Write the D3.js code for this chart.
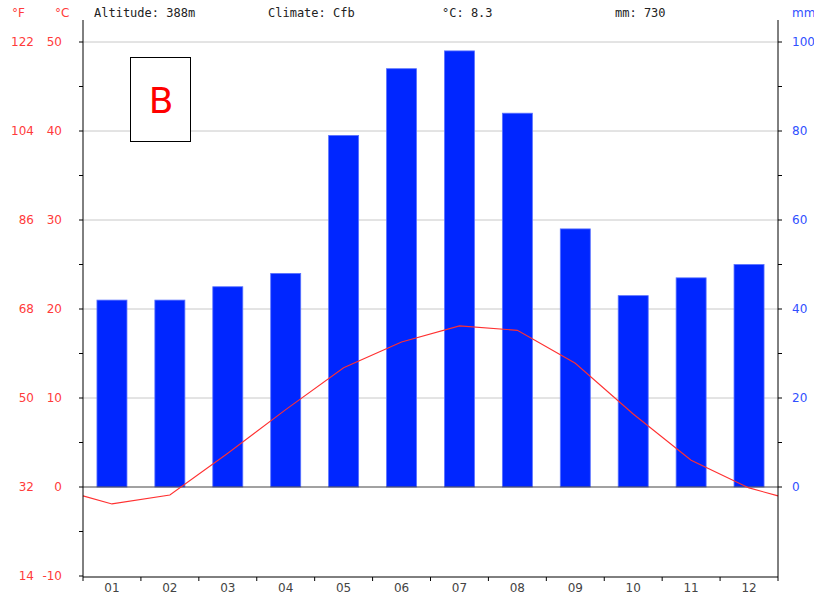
<!DOCTYPE html>
<html>
<head>
<meta charset="utf-8">
<script src="https://cdn.jsdelivr.net/npm/d3@7"></script>
<style>
  body { margin: 0; background: #fff; }
  text { font-family: "DejaVu Sans", sans-serif; }
</style>
</head>
<body>
<div id="chart"></div>
<script>
// data
const months = ["01", "02", "03", "04", "05", "06", "07", "08", "09", "10", "11", "12"];
const precip = [42, 42, 45, 48, 79, 94, 98, 84, 58, 43, 47, 50];
const temp = [-1.9, -0.9, 3.8, 8.7, 13.4, 16.3, 18.1, 17.6, 13.9, 8.2, 3.0, -0.1];
const cTicks = [50, 40, 30, 20, 10, 0, -10];
const mmTicks = [100, 80, 60, 40, 20, 0];
const header = ["Altitude: 388m", "Climate: Cfb", "°C: 8.3", "mm: 730"];

const W = 814, H = 594;
const pLeft = 83, pRight = 778, pTop = 20, pBottom = 577;

const svg = d3.select("#chart").append("svg")
    .attr("width", W)
    .attr("height", H);

const x = d3.scaleBand().domain(months).range([pLeft, pRight]);
const yC = d3.scaleLinear().domain([-10, 50]).range([576, 42]);
const yMM = d3.scaleLinear().domain([0, 100]).range([yC(0), yC(50)]);

// grid lines
svg.append("g")
    .selectAll("line")
    .data(cTicks.filter(d => d > 0))
    .join("line")
    .attr("x1", pLeft).attr("x2", pRight)
    .attr("y1", d => yC(d)).attr("y2", d => yC(d))
    .attr("stroke", "#c8c8c8");

// bars
svg.append("g")
    .selectAll("rect")
    .data(precip)
    .join("rect")
    .attr("x", (d, i) => x(months[i]) + x.bandwidth() / 2 - 15)
    .attr("width", 30)
    .attr("y", d => yMM(d))
    .attr("height", d => yMM(0) - yMM(d))
    .attr("fill", "#0026ff")
    .attr("stroke", "#5a72ff")
    .attr("stroke-width", 0.8);

// zero line
svg.append("line")
    .attr("x1", pLeft).attr("x2", pRight)
    .attr("y1", yC(0)).attr("y2", yC(0))
    .attr("stroke", "#444");

// temperature line with edges at Dec/Jan mean
const edge = (temp[0] + temp[11]) / 2;
const pts = [[pLeft, edge]].concat(temp.map((d, i) => [x(months[i]) + x.bandwidth() / 2, d]), [[pRight, edge]]);
svg.append("path")
    .datum(pts)
    .attr("fill", "none")
    .attr("stroke", "#ff3030")
    .attr("stroke-width", 1.1)
    .attr("d", d3.line().x(d => d[0]).y(d => yC(d[1])));

// left axis
svg.append("line")
    .attr("x1", pLeft).attr("x2", pLeft).attr("y1", pTop).attr("y2", pBottom)
    .attr("stroke", "#000");
const minorC = d3.range(-10, 51, 5);
svg.append("g")
    .selectAll("line")
    .data(minorC)
    .join("line")
    .attr("x1", pLeft - 4).attr("x2", pLeft)
    .attr("y1", d => yC(d)).attr("y2", d => yC(d))
    .attr("stroke", "#000");
svg.append("g")
    .selectAll("text")
    .data(cTicks)
    .join("text")
    .attr("x", 62).attr("y", d => yC(d) + 4)
    .attr("text-anchor", "end")
    .attr("font-size", 12)
    .attr("fill", "#ff3b3b")
    .text(d => d);
svg.append("g")
    .selectAll("text")
    .data(cTicks)
    .join("text")
    .attr("x", 34).attr("y", d => yC(d) + 4)
    .attr("text-anchor", "end")
    .attr("font-size", 12)
    .attr("fill", "#ff3b3b")
    .text(d => Math.round(d * 9 / 5 + 32));

// right axis
svg.append("line")
    .attr("x1", pRight).attr("x2", pRight).attr("y1", pTop).attr("y2", pBottom)
    .attr("stroke", "#000");
svg.append("g")
    .selectAll("line")
    .data(d3.range(0, 101, 10))
    .join("line")
    .attr("x1", pRight).attr("x2", pRight + 4)
    .attr("y1", d => yMM(d)).attr("y2", d => yMM(d))
    .attr("stroke", "#000");
svg.append("g")
    .selectAll("text")
    .data(mmTicks)
    .join("text")
    .attr("x", 792).attr("y", d => yMM(d) + 4)
    .attr("font-size", 12)
    .attr("fill", "#3050ff")
    .text(d => d);

// bottom axis
svg.append("line")
    .attr("x1", pLeft).attr("x2", pRight).attr("y1", pBottom).attr("y2", pBottom)
    .attr("stroke", "#000");
svg.append("g")
    .selectAll("line")
    .data(months.concat(["end"]))
    .join("line")
    .attr("x1", (d, i) => pLeft + i * x.bandwidth())
    .attr("x2", (d, i) => pLeft + i * x.bandwidth())
    .attr("y1", pBottom).attr("y2", pBottom + 4)
    .attr("stroke", "#000");
svg.append("g")
    .selectAll("text")
    .data(months)
    .join("text")
    .attr("x", d => x(d) + x.bandwidth() / 2)
    .attr("y", 592)
    .attr("text-anchor", "middle")
    .attr("font-size", 12)
    .attr("fill", "#444")
    .text(d => d);

// unit labels
svg.append("text").attr("x", 12).attr("y", 17).attr("font-size", 12).attr("fill", "#ff3b3b").text("°F");
svg.append("text").attr("x", 55).attr("y", 17).attr("font-size", 12).attr("fill", "#ff3b3b").text("°C");
svg.append("text").attr("x", 792).attr("y", 17).attr("font-size", 12).attr("fill", "#3050ff").text("mm");

// header
const hx = [94, 268, 442, 615];
svg.append("g")
    .selectAll("text")
    .data(header)
    .join("text")
    .attr("x", (d, i) => hx[i])
    .attr("y", 17)
    .attr("font-size", 12)
    .style("font-family", "'DejaVu Sans Mono', monospace")
    .attr("fill", "#222")
    .text(d => d);

// climate box
svg.append("rect")
    .attr("x", 130.5).attr("y", 57.5)
    .attr("width", 60).attr("height", 84)
    .attr("fill", "#fff")
    .attr("stroke", "#000");
svg.append("text")
    .attr("x", 161).attr("y", 113)
    .attr("text-anchor", "middle")
    .attr("font-size", 36)
    .attr("fill", "#ff0000")
    .text("B");
</script>
</body>
</html>
